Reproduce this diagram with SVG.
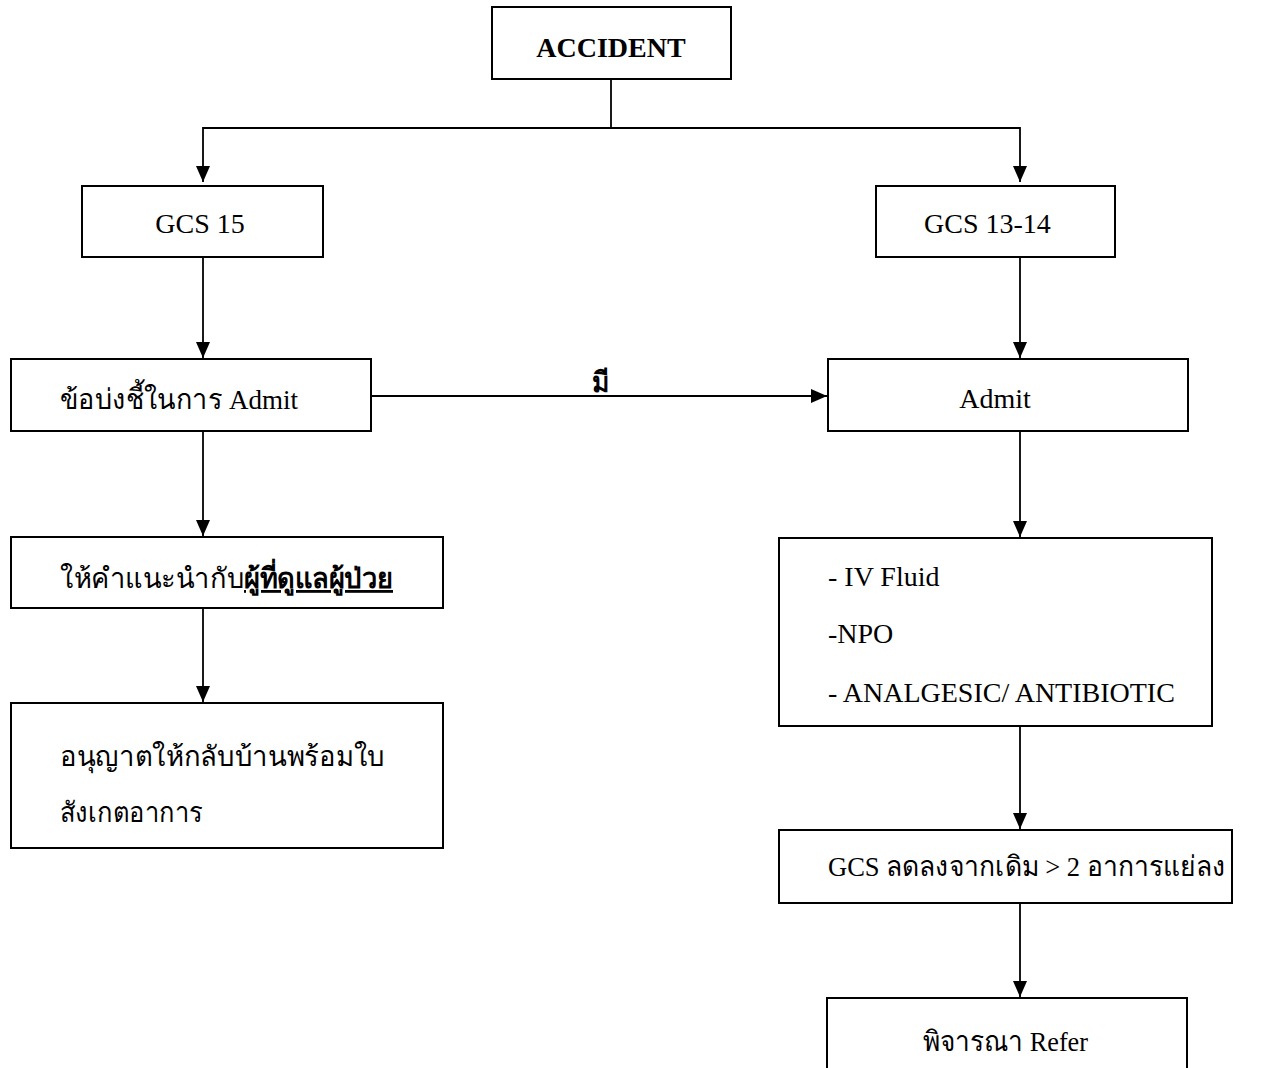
<svg xmlns="http://www.w3.org/2000/svg" width="1264" height="1068" viewBox="0 0 1264 1068">
<style>
.box{fill:#fff;stroke:#000;stroke-width:2}
.t{font-family:"Liberation Serif","Times New Roman",serif;font-size:28px;fill:#000}
.b{font-weight:bold}
.c{text-anchor:middle}
.ln{fill:none;stroke:#000;stroke-width:1.8}
</style>
<defs>
<marker id="ah" markerUnits="userSpaceOnUse" markerWidth="16" markerHeight="18" refX="16" refY="7" orient="auto">
<path d="M0,0 L16,7 L0,14 Z" fill="#000"/>
</marker>
</defs>
<g id="connectors">
<path class="ln" d="M611,79 V128"/>
<path class="ln" d="M611,128 H203 V182" marker-end="url(#ah)"/>
<path class="ln" d="M611,128 H1020 V182" marker-end="url(#ah)"/>
<path class="ln" d="M203,257 V358" marker-end="url(#ah)"/>
<path class="ln" d="M1020,257 V358" marker-end="url(#ah)"/>
<path class="ln" d="M371,396 H827" marker-end="url(#ah)"/>
<path class="ln" d="M203,431 V536" marker-end="url(#ah)"/>
<path class="ln" d="M203,608 V702" marker-end="url(#ah)"/>
<path class="ln" d="M1020,431 V537" marker-end="url(#ah)"/>
<path class="ln" d="M1020,726 V829" marker-end="url(#ah)"/>
<path class="ln" d="M1020,903 V997" marker-end="url(#ah)"/>
<text class="t b" x="592" y="392" textLength="17" lengthAdjust="spacingAndGlyphs">มี</text>
</g>
<g id="accident">
<rect class="box" x="492" y="7" width="239" height="72"/>
<text class="t b c" x="611" y="57">ACCIDENT</text>
</g>
<g id="gcs15">
<rect class="box" x="82" y="186" width="241" height="71"/>
<text class="t c" x="200" y="233">GCS 15</text>
</g>
<g id="gcs1314">
<rect class="box" x="876" y="186" width="239" height="71"/>
<text class="t" x="924" y="233">GCS 13-14</text>
</g>
<g id="indication">
<rect class="box" x="11" y="359" width="360" height="72"/>
<text class="t" x="60" y="409" textLength="238" lengthAdjust="spacingAndGlyphs">ข้อบ่งชี้ในการ Admit</text>
</g>
<g id="admit">
<rect class="box" x="828" y="359" width="360" height="72"/>
<text class="t c" x="995" y="408">Admit</text>
</g>
<g id="advice">
<rect class="box" x="11" y="537" width="432" height="71"/>
<text class="t" x="60" y="588" textLength="333" lengthAdjust="spacingAndGlyphs">ให้คำแนะนำกับ<tspan font-weight="bold" text-decoration="underline">ผู้ที่ดูแลผู้ป่วย</tspan></text>
</g>
<g id="discharge">
<rect class="box" x="11" y="703" width="432" height="145"/>
<text class="t" x="60" y="766" textLength="325" lengthAdjust="spacingAndGlyphs">อนุญาตให้กลับบ้านพร้อมใบ</text>
<text class="t" x="60" y="822" textLength="143" lengthAdjust="spacingAndGlyphs">สังเกตอาการ</text>
</g>
<g id="treatment">
<rect class="box" x="779" y="538" width="433" height="188"/>
<text class="t" x="828" y="586">- IV Fluid</text>
<text class="t" x="828" y="643">-NPO</text>
<text class="t" x="828" y="702">- ANALGESIC/ ANTIBIOTIC</text>
</g>
<g id="gcsdrop">
<rect class="box" x="779" y="830" width="453" height="73"/>
<text class="t" x="828" y="876" textLength="397" lengthAdjust="spacingAndGlyphs">GCS ลดลงจากเดิม &gt; 2 อาการแย่ลง</text>
</g>
<g id="refer">
<rect class="box" x="827" y="998" width="360" height="80"/>
<text class="t" x="923" y="1051" textLength="165" lengthAdjust="spacingAndGlyphs">พิจารณา Refer</text>
</g>
</svg>
